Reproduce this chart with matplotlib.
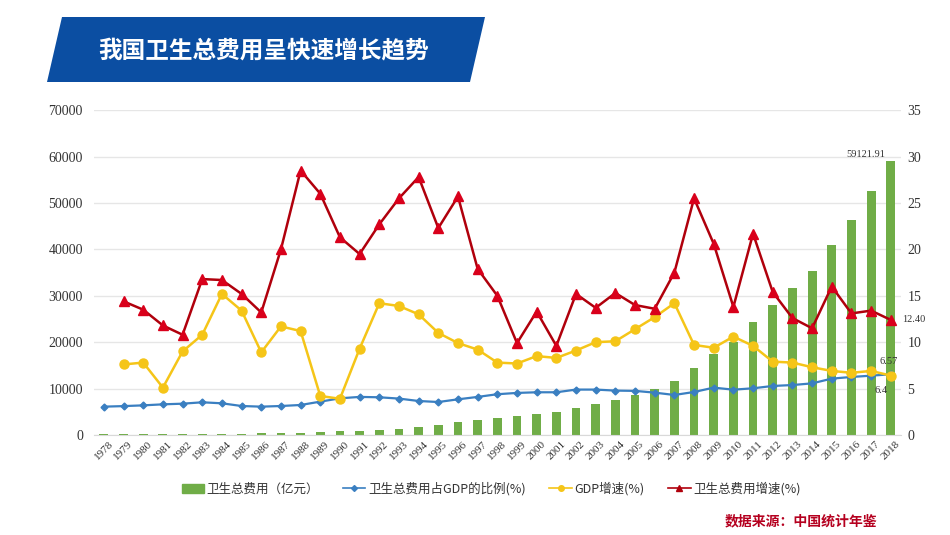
import numpy as np
import matplotlib.pyplot as plt
from matplotlib.patches import Polygon, Patch
from matplotlib.lines import Line2D

plt.rcParams['font.family'] = ['Liberation Serif', 'Noto Sans CJK SC']

years = list(range(1978, 2019))

# 卫生总费用（亿元）
spending = [110.21, 126.19, 143.23, 160.12, 177.53, 207.42, 242.07, 279.00, 315.90, 379.58,
            488.04, 615.50, 747.39, 893.49, 1096.86, 1377.78, 1761.24, 2155.13, 2709.42, 3196.71,
            3678.72, 4047.50, 4586.63, 5025.93, 5790.03, 6584.10, 7590.29, 8659.91, 9843.34, 11573.97,
            14535.40, 17541.92, 19980.39, 24345.91, 28119.00, 31668.95, 35312.40, 40974.64, 46344.88,
            52598.28, 59121.91]

# 卫生总费用占GDP的比例(%)
ratio = [3.05, 3.11, 3.19, 3.30, 3.37, 3.52, 3.41, 3.12, 3.05, 3.12,
         3.23, 3.59, 3.95, 4.10, 4.06, 3.92, 3.66, 3.55, 3.84, 4.10,
         4.39, 4.53, 4.60, 4.60, 4.89, 4.89, 4.78, 4.75, 4.56, 4.31,
         4.63, 5.10, 4.88, 5.03, 5.28, 5.38, 5.56, 6.07, 6.25, 6.39, 6.54]

# GDP增速(%) (from 1979)
gdp_growth = [np.nan, 7.6, 7.8, 5.1, 9.0, 10.8, 15.2, 13.4, 8.9, 11.7,
              11.2, 4.2, 3.9, 9.3, 14.2, 13.9, 13.0, 11.0, 9.9, 9.2,
              7.8, 7.7, 8.5, 8.3, 9.1, 10.0, 10.1, 11.4, 12.7, 14.2,
              9.7, 9.4, 10.6, 9.6, 7.9, 7.8, 7.3, 6.9, 6.7, 6.9, 6.4]

# 卫生总费用增速(%) (from 1979)
spend_growth = [np.nan, 14.4, 13.5, 11.8, 10.8, 16.8, 16.7, 15.2, 13.2, 20.0,
                28.5, 26.0, 21.3, 19.5, 22.7, 25.5, 27.8, 22.3, 25.7, 17.9,
                15.0, 9.9, 13.3, 9.6, 15.2, 13.7, 15.3, 14.0, 13.6, 17.5,
                25.5, 20.6, 13.8, 21.7, 15.4, 12.6, 11.5, 16.0, 13.1, 13.4, 12.4]

x = np.arange(len(years))

fig = plt.figure(figsize=(9.5, 5.35), dpi=100)
ax = fig.add_axes([0.099, 0.187, 0.849, 0.607])
ax2 = ax.twinx()

green = '#70ad47'
blue = '#3a7fc1'
yellow = '#f5c518'
red = '#b0000c'

ax.bar(x, spending, width=0.45, color=green, zorder=2)
ax.set_ylim(0, 70000)
ax.set_yticks(range(0, 70001, 10000))
ax.set_xlim(-0.5, len(years) - 0.5)
ax.set_xticks(x)
ax.set_xticklabels([str(y) for y in years], rotation=45, fontsize=8, color='#333333')
ax.grid(axis='y', color='#e6e6e6', linewidth=1, zorder=0)
ax.set_axisbelow(True)
ax.tick_params(axis='y', length=0, labelsize=10, labelcolor='#333333', pad=8)
ax.tick_params(axis='x', length=0, pad=3)
for s in ['top', 'right', 'left']:
    ax.spines[s].set_visible(False)
    ax2.spines[s].set_visible(False)
ax.spines['bottom'].set_color('#d9d9d9')
ax2.spines['bottom'].set_visible(False)

ax2.plot(x, ratio, color=blue, lw=1.6, marker='D', ms=3.5, zorder=3)
ax2.plot(x, gdp_growth, color=yellow, lw=1.8, marker='o', ms=6.5, zorder=4)
ax2.plot(x, spend_growth, color=red, lw=1.8, marker='^', ms=6.5,
         markerfacecolor='#d9001b', markeredgecolor='#d9001b', zorder=5)
ax2.set_ylim(0, 35)
ax2.set_yticks(range(0, 36, 5))
ax2.tick_params(axis='y', length=0, labelsize=10, labelcolor='#333333', pad=5)

# value labels
ax.text(x[-1] - 0.3, spending[-1] + 300, '59121.91', ha='right', va='bottom', fontsize=7.5, color='#333333')
ax2.text(x[-1] + 0.6, spend_growth[-1], '12.40', ha='left', va='center', fontsize=7.5, color='#333333')
ax2.text(x[-1] + 0.35, 7.9, '6.57', ha='right', va='center', fontsize=7.5, color='#333333')
ax2.text(x[-1] - 0.15, 4.8, '6.4', ha='right', va='center', fontsize=7.5, color='#333333')

# legend
handles = [
    Patch(color=green),
    Line2D([], [], color=blue, marker='D', ms=3, lw=1.2),
    Line2D([], [], color=yellow, marker='o', ms=4, lw=1.2),
    Line2D([], [], color=red, marker='^', ms=4, lw=1.2),
]
labels = ['卫生总费用（亿元）', '卫生总费用占GDP的比例(%)', 'GDP增速(%)', '卫生总费用增速(%)']
fig.legend(handles, labels, loc='center', bbox_to_anchor=(0.517, 0.086), ncol=4, frameon=False,
           prop={'family': ['Noto Sans CJK SC', 'DejaVu Sans'], 'size': 9},
           handlelength=1.8, handletextpad=0.2, columnspacing=1.9, labelcolor='#333333')

# title banner
banner = Polygon([(62 / 950, 1 - 17 / 535), (485 / 950, 1 - 17 / 535),
                  (470 / 950, 1 - 82 / 535), (47 / 950, 1 - 82 / 535)],
                 closed=True, transform=fig.transFigure, facecolor='#0b4ea2', edgecolor='none')
fig.patches.append(banner)
fig.text(264 / 950, 1 - 50 / 535, '我国卫生总费用呈快速增长趋势', ha='center', va='center',
         color='white', fontsize=17, fontweight='bold', family=['Noto Sans CJK SC'])

fig.text(877 / 950, 1 - 521 / 535, '数据来源：中国统计年鉴', ha='right', va='center',
         color='#b5001f', fontsize=10, fontweight='bold', family=['Noto Sans CJK SC'])

fig.savefig('out.png', dpi=100)
